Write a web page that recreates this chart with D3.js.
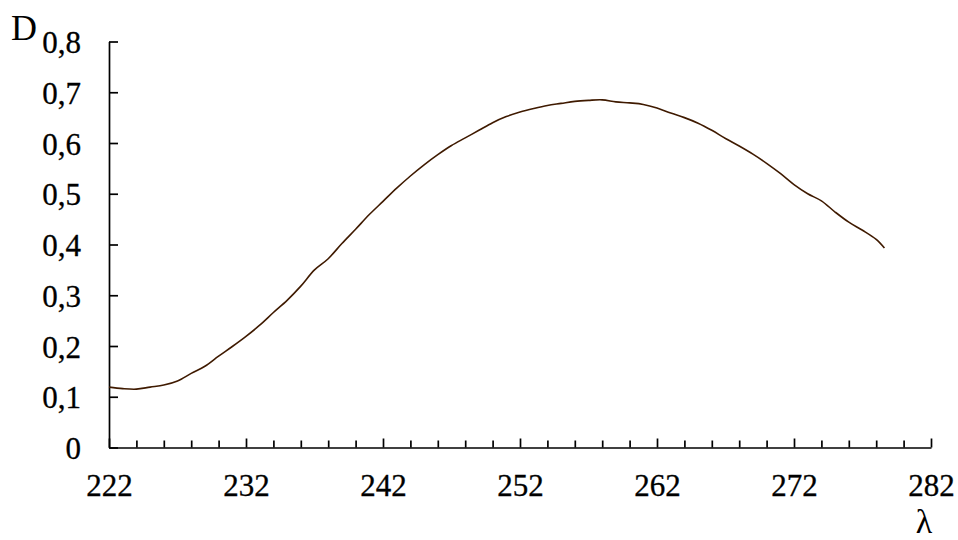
<!DOCTYPE html>
<html>
<head>
<meta charset="utf-8">
<script src="https://cdn.jsdelivr.net/npm/d3@7"></script>
<style>
  body { margin: 0; background: #fff; }
  svg { display: block; }
  .axis text { font-family: "Liberation Serif", "Times New Roman", serif; font-size: 31px; fill: #000;
    stroke: #000; stroke-width: 0.3px; }
</style>
</head>
<body>
<svg id="chart" width="958" height="540"></svg>
<script>
// wavelength (nm) and optical density
var lambda = [222, 223, 224, 225, 226, 227, 228, 229, 230, 231, 232, 233, 234, 235, 236, 237, 238, 239,
  240, 241, 242, 243, 244, 245, 246, 247, 248, 249, 250, 251, 252, 253, 254, 255, 256, 257, 258, 259,
  260, 261, 262, 263, 264, 265, 266, 267, 268, 269, 270, 271, 272, 273, 274, 275, 276, 277, 278, 278.6];
var density = [0.119, 0.116, 0.115, 0.119, 0.123, 0.131, 0.146, 0.160, 0.180, 0.199, 0.219, 0.241, 0.266, 0.290,
  0.318, 0.350, 0.372, 0.402, 0.430, 0.459, 0.485, 0.511, 0.535, 0.557, 0.577, 0.595, 0.610, 0.625, 0.640,
  0.652, 0.661, 0.668, 0.674, 0.678, 0.682, 0.684, 0.685, 0.681, 0.679, 0.676, 0.669, 0.659, 0.650, 0.639,
  0.625, 0.609, 0.594, 0.578, 0.560, 0.540, 0.518, 0.500, 0.486, 0.464, 0.444, 0.428, 0.410, 0.393];

var xTicks = d3.range(222, 283, 2);
var xLabels = [222, 232, 242, 252, 262, 272, 282];
var yTicks = [0, 0.1, 0.2, 0.3, 0.4, 0.5, 0.6, 0.7, 0.8];

var svg = d3.select('#chart');

var x = d3.scaleLinear().domain([222, 282]).range([109, 931]);
var y = d3.scaleLinear().domain([0, 0.8]).range([447.5, 41.5]);

function fmtY(d) {
  return d === 0 ? '0' : d3.format('.1f')(d).replace('.', ',');
}

// x axis, ticks point up into the plot
var gx = svg.append('g')
  .attr('class', 'axis')
  .attr('transform', 'translate(0,' + y(0) + ')')
  .call(d3.axisBottom(x)
    .tickValues(xTicks)
    .tickSizeInner(-7)
    .tickSizeOuter(0)
    .tickFormat(function(d) { return xLabels.indexOf(d) >= 0 ? d : ''; }));

gx.selectAll('.tick line')
  .attr('y2', function(d) { return xLabels.indexOf(d) >= 0 ? -9 : -7; });
gx.selectAll('.tick text').attr('y', 48).attr('dy', 0);

// y axis, ticks point right
var gy = svg.append('g')
  .attr('class', 'axis')
  .attr('transform', 'translate(' + x(222) + ',0)')
  .call(d3.axisLeft(y)
    .tickValues(yTicks)
    .tickSizeInner(-9)
    .tickSizeOuter(0)
    .tickFormat(fmtY));

gy.selectAll('.tick text').attr('x', -28).attr('dy', 11);

svg.selectAll('.axis path, .axis line')
  .attr('stroke', '#000')
  .attr('stroke-width', 1.7);

// axis names
svg.append('text')
  .attr('x', 11).attr('y', 40)
  .style('font-family', '"Liberation Serif", "Times New Roman", serif')
  .style('font-size', '36px')
  .text('D');

svg.append('text')
  .attr('x', 924).attr('y', 533)
  .attr('text-anchor', 'middle')
  .style('font-family', '"Liberation Serif", "Times New Roman", serif')
  .style('font-size', '34px')
  .text('λ');

// the spectrum
var pts = lambda.map(function(l, i) { return [l, density[i]]; });
var line = d3.line()
  .x(function(d) { return x(d[0]); })
  .y(function(d) { return y(d[1]); })
  .curve(d3.curveCatmullRom);

svg.append('path')
  .datum(pts)
  .attr('d', line)
  .attr('fill', 'none')
  .attr('stroke', '#3f1a00')
  .attr('stroke-width', 1.6);
</script>
</body>
</html>
